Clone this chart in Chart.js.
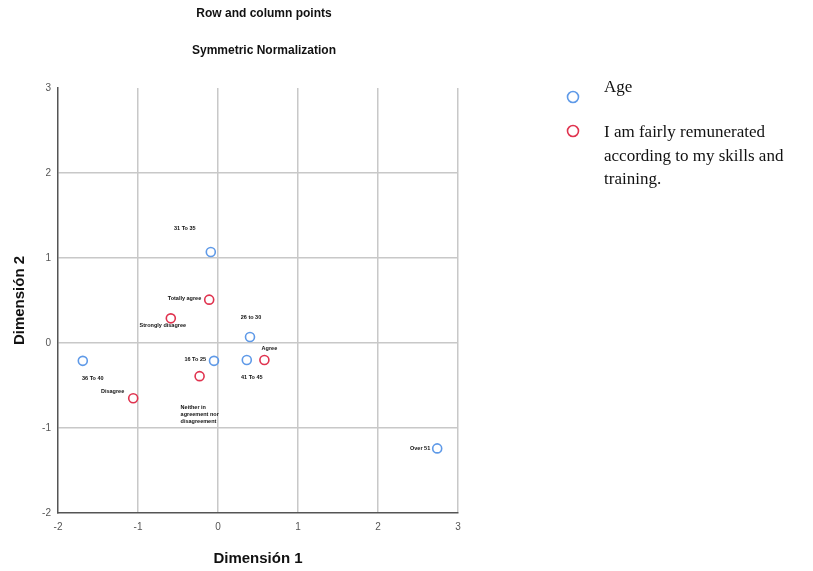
<!DOCTYPE html>
<html>
<head>
<meta charset="utf-8">
<script src="https://cdn.jsdelivr.net/npm/chart.js@4/dist/chart.umd.min.js"></script>
<style>
  html, body { margin: 0; padding: 0; background: #fff; }
  #wrap { width: 813px; height: 571px; position: relative; }
</style>
</head>
<body>
<div id="wrap"><canvas id="c" width="813" height="571"></canvas></div>
<script>
// Correspondence analysis: row points (Age) and column points (remuneration opinion)
const chartTitles = ['Row and column points', 'Symmetric Normalization'];
const xAxisTitle = 'Dimensión 1';
const yAxisTitle = 'Dimensión 2';

const ageLabel = 'Age';
const ageCategories = ['31 To 35', '26 to 30', '16 To 25', '41 To 45', '36 To 40', 'Over 51'];
const ageDim1 = [-0.09, 0.40, -0.05, 0.36, -1.69, 2.74];
const ageDim2 = [1.07, 0.07, -0.21, -0.20, -0.21, -1.24];

const opinionLabel = 'I am fairly remunerated according to my skills and training.';
const opinionCategories = ['Totally agree', 'Strongly disagree', 'Agree', 'Neither in agreement nor disagreement', 'Disagree'];
const opinionDim1 = [-0.11, -0.59, 0.58, -0.23, -1.06];
const opinionDim2 = [0.51, 0.29, -0.20, -0.39, -0.65];

const ticksX = [-2, -1, 0, 1, 2, 3];
const ticksY = [-2, -1, 0, 1, 2, 3];

// label placement (pixel offsets from the marker, text alignment)
const ageLabelPos = [
  { dx: -26, dy: -24, align: 'center' },
  { dx: 1, dy: -20, align: 'center' },
  { dx: -8, dy: -1, align: 'right' },
  { dx: 5, dy: 17, align: 'center' },
  { dx: 10, dy: 18, align: 'center' },
  { dx: -7, dy: 0, align: 'right' }
];
const opinionLabelPos = [
  { dx: -8, dy: -1, align: 'right' },
  { dx: -8, dy: 7, align: 'center' },
  { dx: 5, dy: -12, align: 'center' },
  { dx: -19, dy: 31, align: 'left' },
  { dx: -9, dy: -7, align: 'right' }
];
const neitherLines = ['Neither in', 'agreement nor', 'disagreement'];

const blue = '#5f9ae8';
const red = '#e0334f';

const toPoints = (xs, ys) => xs.map((x, i) => ({ x, y: ys[i] }));

const pointLabels = {
  id: 'pointLabels',
  afterDatasetsDraw(chart) {
    const ctx = chart.ctx;
    ctx.save();
    ctx.fillStyle = '#111';
    ctx.font = 'bold 5.5px "Liberation Sans", Arial, sans-serif';
    ctx.textBaseline = 'middle';
    const sets = [
      { names: ageCategories, pos: ageLabelPos },
      { names: opinionCategories, pos: opinionLabelPos }
    ];
    sets.forEach((s, di) => {
      const meta = chart.getDatasetMeta(di);
      meta.data.forEach((el, i) => {
        const p = s.pos[i];
        ctx.textAlign = p.align;
        const lines = s.names[i].length > 25 ? neitherLines : [s.names[i]];
        lines.forEach((ln, k) => {
          ctx.fillText(ln, el.x + p.dx, el.y + p.dy + k * 7);
        });
      });
    });
    ctx.restore();
  }
};

const titlesAndLegend = {
  id: 'titlesAndLegend',
  afterDraw(chart) {
    const ctx = chart.ctx;
    ctx.save();
    ctx.fillStyle = '#111';
    ctx.font = 'bold 12px "Liberation Sans", Arial, sans-serif';
    ctx.textAlign = 'center';
    ctx.textBaseline = 'middle';
    ctx.fillText(chartTitles[0], 264, 14);
    ctx.fillText(chartTitles[1], 264, 51);

    // legend
    ctx.font = '17px "Liberation Serif", "Times New Roman", serif';
    ctx.textAlign = 'left';
    ctx.textBaseline = 'middle';
    const entries = [
      { text: ageLabel, color: blue, y: 88, my: 97 },
      { text: opinionLabel, color: red, y: 133, my: 131 }
    ];
    const maxW = 205;
    entries.forEach(e => {
      ctx.beginPath();
      ctx.arc(573, e.my, 5.5, 0, Math.PI * 2);
      ctx.strokeStyle = e.color;
      ctx.lineWidth = 1.6;
      ctx.stroke();
      const words = e.text.split(' ');
      let line = '';
      let y = e.y;
      words.forEach(w => {
        const test = line ? line + ' ' + w : w;
        if (ctx.measureText(test).width > maxW && line) {
          ctx.fillText(line, 604, y);
          line = w;
          y += 23.5;
        } else {
          line = test;
        }
      });
      ctx.fillText(line, 604, y);
    });
    ctx.restore();
  }
};

new Chart(document.getElementById('c'), {
  type: 'scatter',
  data: {
    datasets: [
      {
        label: ageLabel,
        data: toPoints(ageDim1, ageDim2),
        borderColor: blue,
        backgroundColor: 'rgba(255,255,255,0)',
        borderWidth: 1.6,
        pointRadius: 4.5,
        pointHoverRadius: 4.5
      },
      {
        label: opinionLabel,
        data: toPoints(opinionDim1, opinionDim2),
        borderColor: red,
        backgroundColor: 'rgba(255,255,255,0)',
        borderWidth: 1.6,
        pointRadius: 4.5,
        pointHoverRadius: 4.5
      }
    ]
  },
  options: {
    responsive: false,
    animation: false,
    events: [],
    layout: { padding: { top: 88, right: 355, left: 0, bottom: 0 } },
    plugins: {
      legend: { display: false },
      title: { display: false },
      tooltip: { enabled: false }
    },
    scales: {
      x: {
        type: 'linear',
        min: ticksX[0],
        max: ticksX[ticksX.length - 1],
        afterBuildTicks: s => { s.ticks = ticksX.map(v => ({ value: v })); },
        afterFit: s => { s.height = 58; },
        grid: {
          color: ctx => ctx.tick && ctx.tick.value === ticksX[0] ? 'rgba(0,0,0,0)' : '#c8c8c8',
          lineWidth: 1.5,
          drawTicks: false
        },
        border: { color: '#555', width: 1.5 },
        ticks: {
          color: '#555',
          font: { family: '"Liberation Sans", Arial, sans-serif', size: 10 },
          padding: 8,
          maxRotation: 0
        },
        title: {
          display: true,
          text: xAxisTitle,
          color: '#111',
          font: { family: '"Liberation Sans", Arial, sans-serif', size: 15, weight: 'bold' },
          padding: { top: 4, bottom: 3 }
        }
      },
      y: {
        type: 'linear',
        min: ticksY[0],
        max: ticksY[ticksY.length - 1],
        afterBuildTicks: s => { s.ticks = ticksY.map(v => ({ value: v })); },
        afterFit: s => { s.width = 58; },
        grid: {
          color: ctx => ctx.tick && (ctx.tick.value === ticksY[0] || ctx.tick.value === ticksY[ticksY.length - 1]) ? 'rgba(0,0,0,0)' : '#c8c8c8',
          lineWidth: 1.5,
          drawTicks: false
        },
        border: { color: '#555', width: 1.5 },
        ticks: {
          color: '#555',
          font: { family: '"Liberation Sans", Arial, sans-serif', size: 10 },
          padding: 7
        },
        title: {
          display: true,
          text: yAxisTitle,
          color: '#111',
          font: { family: '"Liberation Sans", Arial, sans-serif', size: 15, weight: 'bold' },
          padding: { top: 11, bottom: 0 }
        }
      }
    }
  },
  plugins: [pointLabels, titlesAndLegend]
});
</script>
</body>
</html>
